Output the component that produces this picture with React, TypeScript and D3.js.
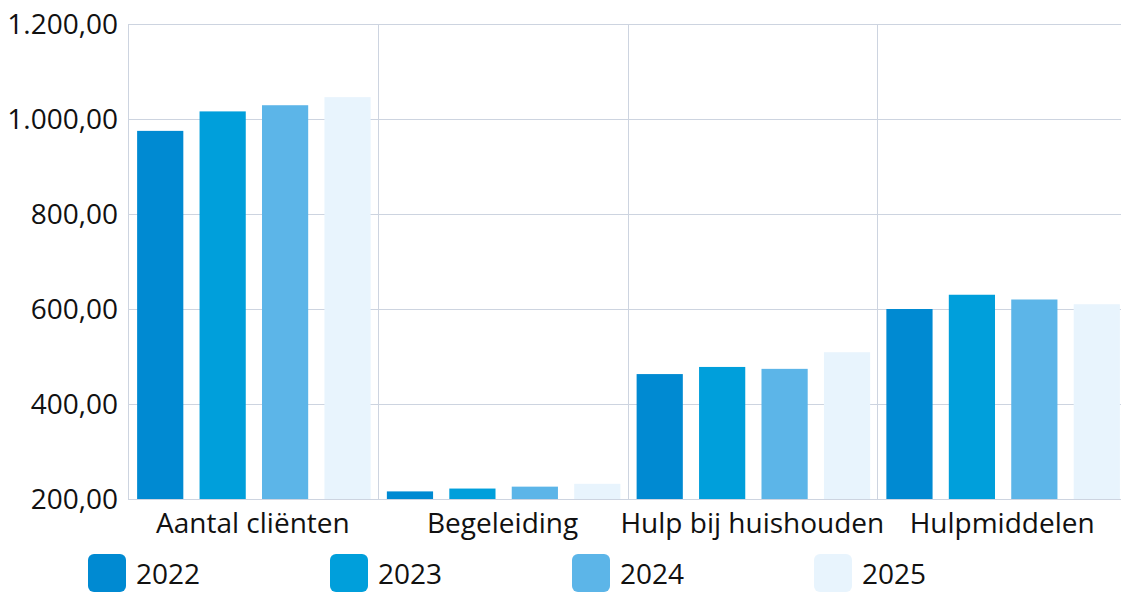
import React, { useEffect, useRef } from 'react';
import * as d3 from 'd3';

const categories = ['Aantal cliënten', 'Begeleiding', 'Hulp bij huishouden', 'Hulpmiddelen'];
const years = ['2022', '2023', '2024', '2025'];
const values2022 = [975, 216, 463, 600];
const values2023 = [1016, 222, 478, 630];
const values2024 = [1029, 226, 474, 620];
const values2025 = [1046, 232, 509, 610];
const yTicks = [200, 400, 600, 800, 1000, 1200];
const colors = ['#008ad2', '#009fdb', '#5cb5e8', '#e8f4fd'];

const W = 1121;
const H = 592;

const App: React.FC = () => {
  const ref = useRef<SVGSVGElement>(null);

  useEffect(() => {
    const svg = d3.select(ref.current);
    svg.selectAll('*').remove();

    const series = [values2022, values2023, values2024, values2025];
    const font = "'Open Sans', sans-serif";
    const fs = '28px';

    // plot area (right side runs a bit past the svg edge, as in the original)
    const left = 128, right = 1127, top = 24, bottom = 499;

    const x0 = d3.scaleBand<string>().domain(categories).range([left, right]);
    const x1 = d3.scaleBand<string>().domain(years).range([0, x0.bandwidth()]);
    const y = d3.scaleLinear().domain([200, 1200]).range([bottom, top]);
    const barW = x1.bandwidth() * 0.74;

    // horizontal grid
    svg.append('g')
      .selectAll('line')
      .data(yTicks)
      .enter()
      .append('line')
      .attr('x1', left)
      .attr('x2', W)
      .attr('y1', d => Math.round(y(d)) + 0.5)
      .attr('y2', d => Math.round(y(d)) + 0.5)
      .attr('stroke', '#cdd4e0')
      .attr('stroke-width', 1);

    // vertical separators
    svg.append('g')
      .selectAll('line')
      .data(categories)
      .enter()
      .append('line')
      .attr('x1', d => Math.round(x0(d)!) + 0.5)
      .attr('x2', d => Math.round(x0(d)!) + 0.5)
      .attr('y1', top)
      .attr('y2', bottom)
      .attr('stroke', '#cdd4e0')
      .attr('stroke-width', 1);

    // bars
    const groups = svg.append('g')
      .selectAll('g')
      .data(categories)
      .enter()
      .append('g')
      .attr('transform', d => `translate(${x0(d)},0)`);

    groups.selectAll('rect')
      .data((_, ci) => years.map((yr, si) => ({ yr, si, v: series[si][ci] })))
      .enter()
      .append('rect')
      .attr('x', d => x1(d.yr)! + (x1.bandwidth() - barW) / 2 + 1)
      .attr('width', barW)
      .attr('y', d => y(d.v))
      .attr('height', d => bottom - y(d.v))
      .attr('fill', d => colors[d.si]);

    // axis baseline
    svg.append('line')
      .attr('x1', left)
      .attr('x2', W)
      .attr('y1', bottom + 0.5)
      .attr('y2', bottom + 0.5)
      .attr('stroke', '#cdd4e0');

    // y tick labels
    const fmt = (v: number) =>
      d3.format(',.2f')(v).replace(/,/g, '#').replace('.', ',').replace(/#/g, '.');

    svg.append('g')
      .selectAll('text')
      .data(yTicks)
      .enter()
      .append('text')
      .attr('x', 118)
      .attr('y', d => y(d))
      .attr('dy', '0.36em')
      .attr('text-anchor', 'end')
      .style('font-family', font)
      .style('font-size', fs)
      .attr('fill', '#111')
      .text(d => fmt(d));

    // category labels
    svg.append('g')
      .selectAll('text')
      .data(categories)
      .enter()
      .append('text')
      .attr('x', d => x0(d)! + x0.bandwidth() / 2)
      .attr('y', 533)
      .attr('text-anchor', 'middle')
      .style('font-family', font)
      .style('font-size', fs)
      .attr('fill', '#111')
      .text(d => d);

    // legend
    const legend = svg.append('g')
      .selectAll('g')
      .data(years)
      .enter()
      .append('g')
      .attr('transform', (_, i) => `translate(${88 + i * 242},554)`);

    legend.append('rect')
      .attr('width', 38)
      .attr('height', 38)
      .attr('rx', 6)
      .attr('fill', (_, i) => colors[i]);

    legend.append('text')
      .attr('x', 48)
      .attr('y', 30)
      .style('font-family', font)
      .style('font-size', fs)
      .attr('fill', '#111')
      .text(d => d);
  }, []);

  return (
    <svg
      ref={ref}
      width={W}
      height={H}
      style={{ position: 'absolute', left: 0, top: 0, background: '#fff' }}
    />
  );
};

export default App;
